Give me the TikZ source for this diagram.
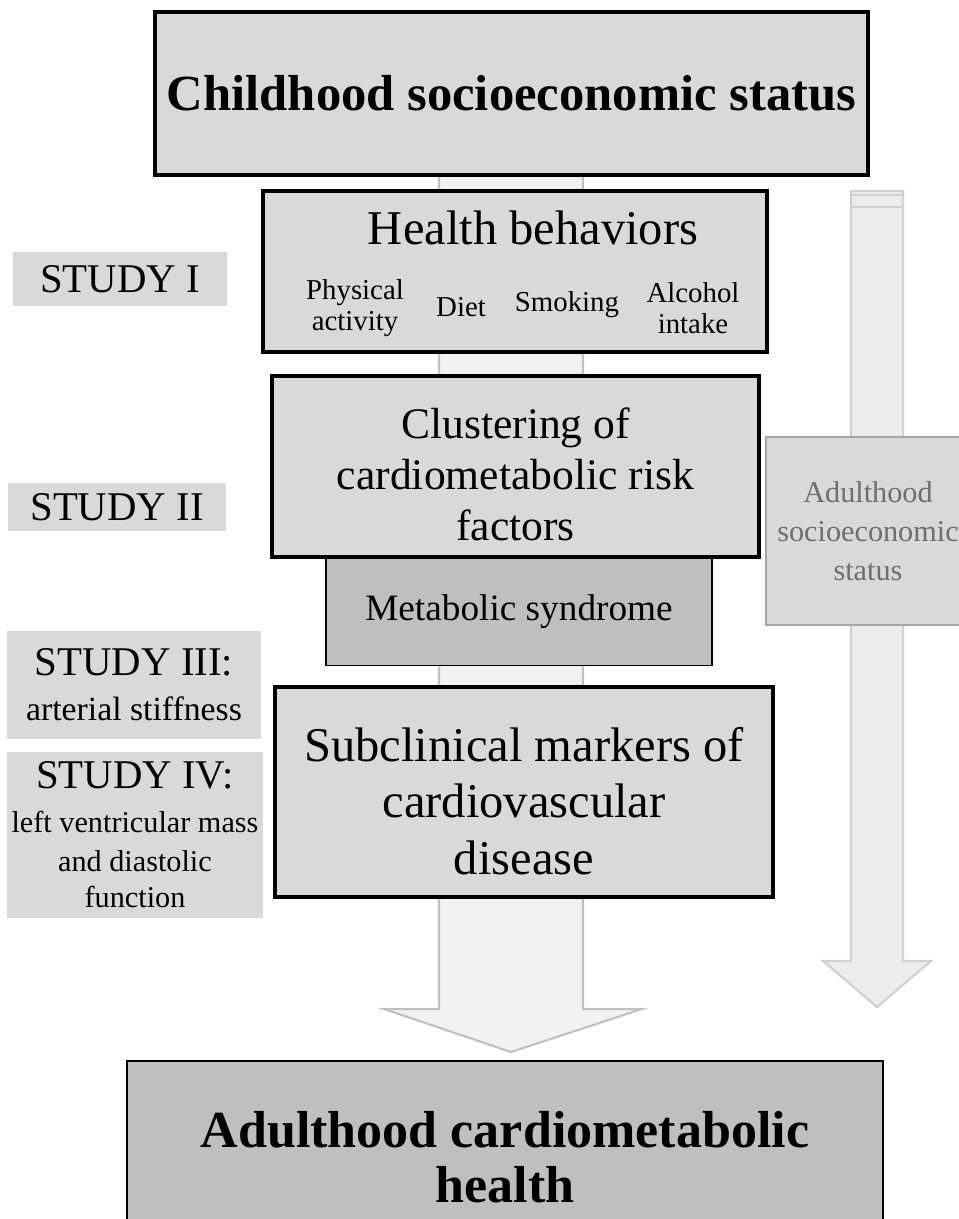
\documentclass[tikz,border=0pt]{standalone}
\usepackage{fontspec}
\setmainfont{Liberation Serif}
\usepackage{tikz}

\definecolor{boxgray}{HTML}{D9D9D9}
\definecolor{darkgray}{HTML}{BFBFBF}
\definecolor{arrowfill}{HTML}{F2F2F2}
\definecolor{arrowline}{HTML}{C0C0C0}
\definecolor{sesfill}{HTML}{ECECEC}
\definecolor{sesline}{HTML}{D0D0D0}
\definecolor{sestext}{HTML}{6E6E6E}

\tikzset{
  box/.style={draw=black,line width=2.5pt,fill=boxgray,align=center,inner sep=0pt},
  studybox/.style={fill=boxgray,align=center,inner sep=0pt},
}

\begin{document}
\begin{tikzpicture}[x=0.025cm,y=-0.025cm]
        \useasboundingbox (0,0) rectangle (959,1219);
        % arrows behind the boxes
        \draw[fill=arrowfill,draw=arrowline,line width=1.5pt] (439,175) -- (439,1009) -- (384,1009) -- (511,1052) -- (642,1009) -- (583,1009) -- (583,175);
        \draw[fill=sesfill,draw=sesline,line width=1.5pt] (851,191) -- (851,961) -- (823,961) -- (877,1007) -- (931,961) -- (903,961) -- (903,191) -- cycle;
        \draw[sesline,line width=2pt] (851,195) -- (903,195);
        \draw[sesline,line width=2pt] (851,207) -- (903,207);
        \node[shape=rectangle,fill=boxgray,draw=sesline!80!black,line width=1.2pt,minimum width=5.1cm,minimum height=4.7cm,text=sestext,align=center,font=\fontsize{21.5}{27.5}\selectfont] (ses) at (868,531) {Adulthood\\socioeconomic\\status};
        % main boxes
        \node[box,minimum width=17.825cm,minimum height=4.075cm,font=\fontsize{36}{40}\selectfont\bfseries] (child) at (511.5,93.5) {Childhood socioeconomic status};
        \node[box,minimum width=12.6cm,minimum height=4.025cm] (health) at (515,271.5) {};
        \node (htitle) at (533,228) {\fontsize{34.5}{40}\selectfont Health behaviors};
        \node[align=center,font=\fontsize{20.5}{22}\selectfont] (phys) at (355,308) {Physical\\activity};
        \node[font=\fontsize{20.5}{22}\selectfont] (diet) at (461,307) {Diet};
        \node[font=\fontsize{20.5}{22}\selectfont] (smok) at (567,305) {Smoking};
        \node[align=center,font=\fontsize{20.5}{22}\selectfont] (alco) at (693,308) {Alcohol\\intake};
        \node[box,minimum width=12.175cm,minimum height=4.525cm] (clust) at (515.5,466.5) {};
        \node[align=center,font=\fontsize{31}{36.5}\selectfont] (clusttext) at (515.5,474.5) {Clustering of\\cardiometabolic risk\\factors};
        \node[box,fill=darkgray,line width=0.9pt,minimum width=9.65cm,minimum height=2.675cm,font=\fontsize{26.5}{30}\selectfont] (metab) at (519,612) {Metabolic syndrome};
        \node[box,minimum width=12.45cm,minimum height=5.25cm] (subcl) at (524,792) {};
        \node[align=center,font=\fontsize{34.5}{40}\selectfont] (subcltext) at (524,801) {Subclinical markers of\\cardiovascular\\disease};
        \node[box,fill=darkgray,line width=1.8pt,minimum width=18.9cm,minimum height=4.8cm,font=\fontsize{37}{39}\selectfont\bfseries] (adult) at (505,1157) {Adulthood cardiometabolic\\health};
        % study labels
        \node[studybox,minimum width=5.35cm,minimum height=1.35cm,font=\fontsize{29}{32}\selectfont] (s1) at (120,279) {STUDY I};
        \node[studybox,minimum width=5.45cm,minimum height=1.2cm,font=\fontsize{29}{32}\selectfont] (s2) at (117,507) {STUDY II};
        \node[studybox,minimum width=6.35cm,minimum height=2.7cm,font=\fontsize{24}{32}\selectfont] (s3) at (134,685) {{\fontsize{29}{32}\selectfont STUDY III:}\\arterial stiffness};
        \node[studybox,minimum width=6.4cm,minimum height=4.15cm,font=\fontsize{21.5}{26}\selectfont] (s4) at (135,835) {{\fontsize{29}{31}\selectfont STUDY IV:}\\[5pt]left ventricular mass\\[1.5pt]and diastolic\\function};
    \end{tikzpicture}
\end{document}
